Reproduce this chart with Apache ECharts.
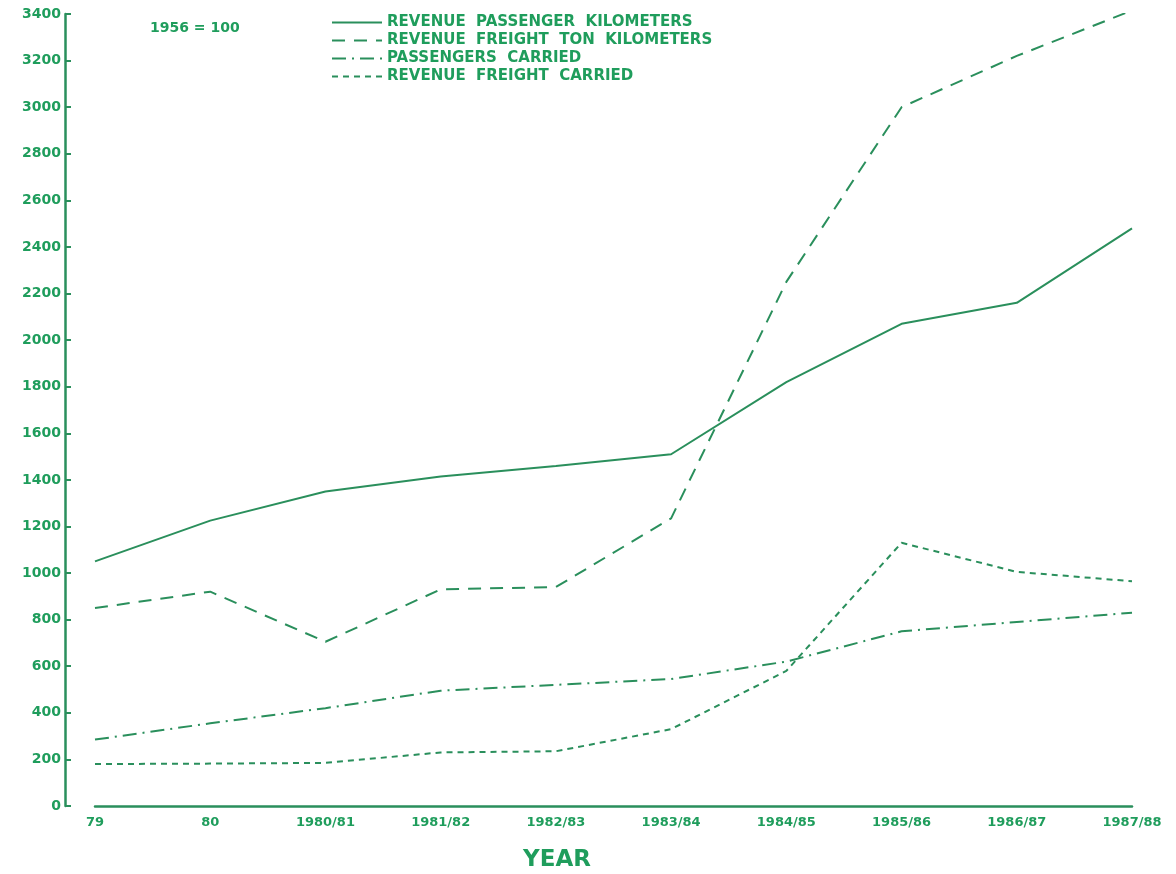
<!DOCTYPE html>
<html>
<head>
<meta charset="utf-8">
<script src="https://cdn.jsdelivr.net/npm/echarts@6/dist/echarts.min.js"></script>
<style>
html,body{margin:0;padding:0;background:#fff;}
#chart{width:1176px;height:874px;}
</style>
</head>
<body>
<div id="chart"></div>
<script>
const categories = ['79','80','1980/81','1981/82','1982/83','1983/84','1984/85','1985/86','1986/87','1987/88'];
const passengerKm = [1050,1225,1350,1415,1460,1510,1820,2070,2160,2480];
const freightTonKm = [850,920,705,930,940,1235,2250,3000,3220,3415];
const passengersCarried = [285,355,420,495,520,545,620,750,790,830];
const freightCarried = [180,182,185,230,235,330,580,1130,1005,965];
const yTicks = {min:0, max:3400, interval:200};
const seriesNames = ['REVENUE  PASSENGER  KILOMETERS','REVENUE  FREIGHT  TON  KILOMETERS','PASSENGERS  CARRIED','REVENUE  FREIGHT  CARRIED'];

const TXT = '#1f9d5c';
const LN = '#2a8f5c';
const FONT = 'DejaVu Sans';

const chart = echarts.init(document.getElementById('chart'));
function mk(name, data, type, width) {
  return {
    name: name, type: 'line', data: data, symbol: 'none', silent: true,
    lineStyle: {color: LN, width: width, type: type},
    itemStyle: {color: LN}
  };
}
chart.setOption({
  backgroundColor: '#fff',
  animation: false,
  grid: {left: 95, right: 44, top: 14, bottom: 68},
  legend: {
    orient: 'vertical', left: 326, top: 10, itemGap: 3,
    itemWidth: 50, itemHeight: 15,
    itemStyle: {opacity: 0},
    textStyle: {color: TXT, fontFamily: FONT, fontWeight: 'bold', fontSize: 15},
    data: seriesNames
  },
  xAxis: {
    type: 'category', data: categories, boundaryGap: false,
    axisLine: {lineStyle: {color: LN, width: 2.5}},
    axisTick: {show: false},
    axisLabel: {color: TXT, fontFamily: FONT, fontWeight: 'bold', fontSize: 13, margin: 10, interval: 0}
  },
  yAxis: {
    type: 'value', min: yTicks.min, max: yTicks.max, interval: yTicks.interval,
    offset: 30,
    axisLine: {show: true, lineStyle: {color: LN, width: 2.5}},
    axisTick: {show: true, inside: true, length: 6, lineStyle: {color: LN, width: 2}},
    axisLabel: {color: TXT, fontFamily: FONT, fontWeight: 'bold', fontSize: 14, margin: 4,
      formatter: function (v) { return String(v); }},
    splitLine: {show: false}
  },
  graphic: [{
    type: 'text', left: 150, top: 21,
    style: {text: '1956 = 100', fill: TXT, font: 'bold 14px "DejaVu Sans"'}
  }, {
    type: 'text', x: 557, y: 860,
    style: {text: 'YEAR', fill: TXT, font: 'bold 23px "DejaVu Sans"', align: 'center', verticalAlign: 'middle'}
  }],
  series: [
    mk(seriesNames[0], passengerKm, 'solid', 2),
    mk(seriesNames[1], freightTonKm, [13, 9], 2),
    mk(seriesNames[2], passengersCarried, [14, 6, 2, 6], 2),
    mk(seriesNames[3], freightCarried, [6, 5], 2)
  ]
});
</script>
</body>
</html>
